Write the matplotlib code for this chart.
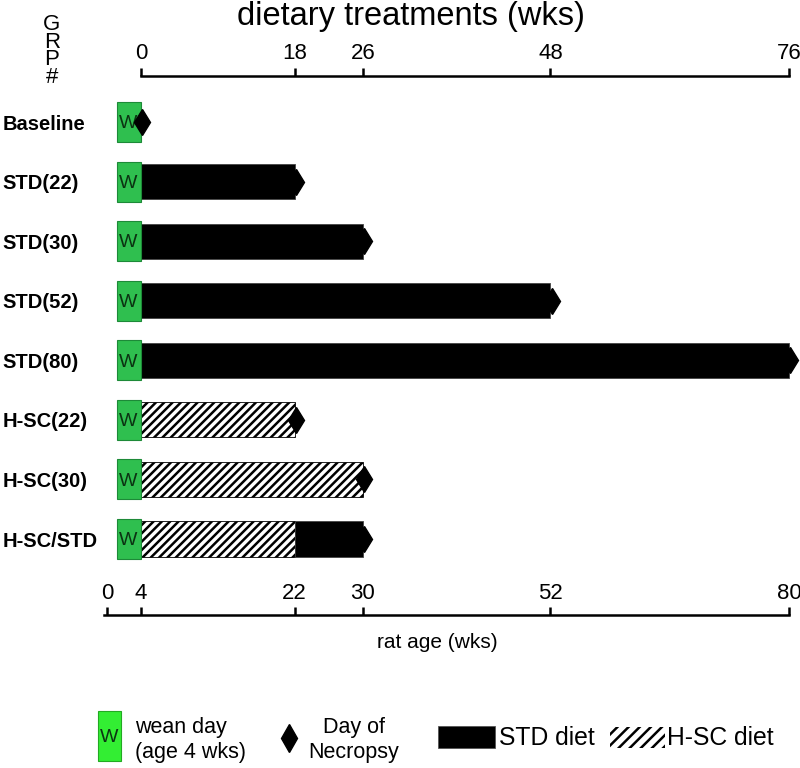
import numpy as np
import matplotlib.pyplot as plt
from matplotlib.patches import Rectangle

plt.rcParams['font.family'] = ['Liberation Sans', 'DejaVu Sans']
plt.rcParams['hatch.linewidth'] = 1.8

# data
groups = ['Baseline', 'STD(22)', 'STD(30)', 'STD(52)', 'STD(80)',
          'H-SC(22)', 'H-SC(30)', 'H-SC/STD']
wean_age = 4
hsc_end = np.array([4, 4, 4, 4, 4, 22, 30, 22])      # H-SC diet from wean to here
std_end = np.array([4, 22, 30, 52, 80, 22, 30, 30])  # then STD diet up to here
necropsy = np.array([4, 22, 30, 52, 80, 22, 30, 30])
age_ticks = [0, 4, 22, 30, 52, 80]
treat_ticks = [0, 18, 26, 48, 76]

green = '#2fbf4f'
rows = np.arange(len(groups))

fig = plt.figure(figsize=(8, 7.68), dpi=100)

# legend layer (pixel coords)
lg = fig.add_axes([0, 0, 1, 1])
lg.set_xlim(0, 800)
lg.set_ylim(768, 0)
lg.axis('off')

ax = fig.add_axes([0.1231, 0.1992, 0.874, 0.7018])
ax.set_xlim(-1, 81)
ax.set_ylim(8.276, -0.772)
ax.patch.set_visible(False)

# wean box
ax.barh(rows, wean_age - 1.2, left=1.2, height=0.67, color=green,
        edgecolor='#1d8a38', linewidth=0.8, zorder=3)
for r in rows:
    ax.text(2.45, r + 0.03, 'W', ha='center', va='center', fontsize=14,
            color='#0b3312', zorder=4)

# H-SC diet
m = hsc_end > wean_age
ax.barh(rows[m], hsc_end[m] - wean_age, left=wean_age, height=0.59,
        color='white', edgecolor='black', hatch='////', linewidth=0.6, zorder=2)
# STD diet
m2 = std_end > hsc_end
ax.barh(rows[m2], std_end[m2] - hsc_end[m2], left=hsc_end[m2], height=0.59,
        color='black', edgecolor='#444444', linewidth=0.6, zorder=2)
# necropsy
ax.plot(necropsy + 0.15, rows, 'd', color='black', ms=13, clip_on=False, zorder=5)

# group labels
ax.set_yticks(rows)
ax.set_yticklabels(groups, fontsize=14.5, fontweight='bold', ha='left')
ax.tick_params(axis='y', length=0, pad=69)

# bottom axis: rat age
for s in ['left', 'right', 'top']:
    ax.spines[s].set_visible(False)
ax.spines['bottom'].set_bounds(-0.4, 80)
ax.spines['bottom'].set_linewidth(1.8)
ax.set_xticks(age_ticks)
ax.tick_params(axis='x', direction='in', length=6, width=1.8, labelsize=16, pad=-23)

# top axis: dietary treatments
ax2 = ax.twiny()
ax2.set_xlim(ax.get_xlim()[0] - wean_age, ax.get_xlim()[1] - wean_age)
for s in ['left', 'right', 'bottom']:
    ax2.spines[s].set_visible(False)
ax2.spines['top'].set_bounds(0, 76)
ax2.spines['top'].set_linewidth(1.8)
ax2.set_xticks(treat_ticks)
ax2.tick_params(axis='x', direction='out', length=6, width=1.8, labelsize=16, pad=3)

fig.text(411 / 800, 1 - 25 / 768, 'dietary treatments (wks)', fontsize=23.5,
         ha='center', va='baseline')
fig.text(437 / 800, 1 - 642 / 768, 'rat age (wks)', fontsize=15,
         ha='center', va='center')
fig.text(52 / 800, 1 - 51 / 768, 'G\nR\nP\n#', fontsize=16, ha='center',
         va='center', linespacing=0.78)

# legend
lg.add_patch(Rectangle((98, 711), 23, 50, facecolor='#33ee33', edgecolor='#22aa22', lw=0.8))
lg.text(109.5, 738, 'W', ha='center', va='center', fontsize=14, color='#0b3312')
lg.text(135, 740, 'wean day\n(age 4 wks)', ha='left', va='center', fontsize=15.5)
lg.plot([289], [738], 'd', color='black', ms=14)
lg.text(354, 740, 'Day of\nNecropsy', ha='center', va='center', fontsize=15.5)
lg.add_patch(Rectangle((438, 726), 57, 22, facecolor='black', edgecolor='#555555', lw=0.6))
lg.text(499, 738, 'STD diet', ha='left', va='center', fontsize=17.8)
lg.add_patch(Rectangle((610, 727), 55, 21, facecolor='white', edgecolor='black',
                       hatch='///', lw=0))
lg.text(667, 738, 'H-SC diet', ha='left', va='center', fontsize=17.8)

plt.savefig('out.png', dpi=100)
